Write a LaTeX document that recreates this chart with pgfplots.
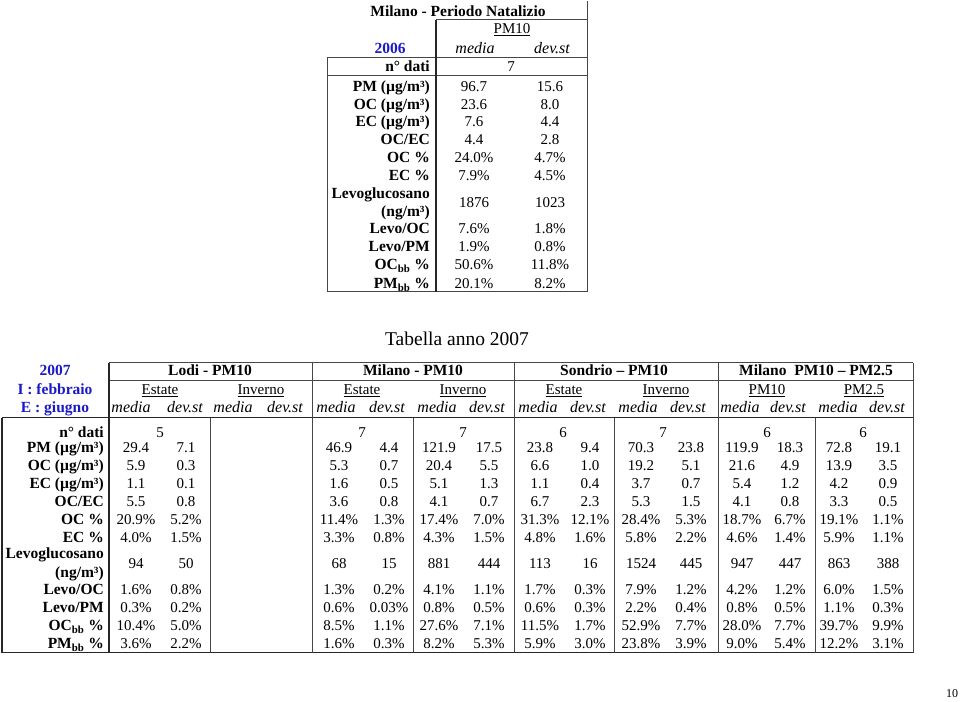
\documentclass[border=0pt]{standalone}
\usepackage{pgfplots}
\pgfplotsset{compat=1.18}
\usepackage{fontspec}
\setmainfont{Liberation Serif}
\definecolor{hdblue}{RGB}{25,25,200}
\definecolor{rl}{RGB}{70,70,70}
\tikzset{
  lab/.style={anchor=base east, inner sep=0pt, font=\bfseries\fontsize{15.5}{18}\selectfont},
  val/.style={anchor=base, inner sep=0pt, font=\fontsize{15}{18}\selectfont},
  hd/.style={anchor=base, inner sep=0pt, font=\itshape\fontsize{16}{18}\selectfont},
  bh/.style={anchor=base, inner sep=0pt, font=\bfseries\fontsize{15.5}{18}\selectfont},
  blu/.style={anchor=base, inner sep=0pt, text=hdblue, font=\bfseries\fontsize{15.5}{18}\selectfont},
  thin/.style={rl, line width=1pt},
  thick/.style={black!85, line width=1.6pt},
}
% top table row: y, label, media, dev.st
\newcommand{\trow}[4]{%
  \node[lab] at (430,#1+5) {#2};
  \node[val] at (474,#1+5) {#3};
  \node[val] at (550,#1+5) {#4};
}
% bottom table row: y, label, 14 values (Lodi inverno empty)
\newcommand{\brow}[3]{%
  \node[lab] at (104,#1+5) {#2};
  \foreach \v [count=\i from 0] in {#3} {%
    \pgfmathsetmacro\xx{{136,186,339,389,439,489,540,590,641,691,742,790,839,888}[\i]}%
    \edef\temp{\noexpand\node[val] at (\xx,#1+5) {\v};}%
    \temp
  }%
}
\begin{document}
\begin{tikzpicture}
\begin{axis}[
  x=1pt, y=1pt,
  xmin=0, xmax=960, ymin=0, ymax=701,
  y dir=reverse,
  hide axis,
  clip=false,
  ]
\path (0,0) rectangle (960,701);

% ---- Milano - Periodo Natalizio ----
\draw[thin] (436,19) -- (587,19);
\draw[thin] (327,57) -- (587,57);
\draw[thin] (327,75) -- (587,75);
\draw[thin] (327,291) -- (587,291);
\draw[thin] (327,57) -- (327,291);
\draw[thin] (587,0) -- (587,291);
\draw[thick] (436,19) -- (436,291);

\node[bh] at (458,16) {Milano - Periodo Natalizio};
\node[val] at (512,33) {\underline{PM10}};
\node[blu] at (390,53) {2006};
\node[hd] at (475,53) {media};
\node[hd] at (552,53) {dev.st};
\node[lab] at (430,71) {n° dati};
\node[val] at (511,71) {7};
\trow{86}{PM (µg/m³)}{96.7}{15.6}
\trow{104}{OC (µg/m³)}{23.6}{8.0}
\trow{121}{EC (µg/m³)}{7.6}{4.4}
\trow{139}{OC/EC}{4.4}{2.8}
\trow{157}{OC \%}{24.0\%}{4.7\%}
\trow{175}{EC \%}{7.9\%}{4.5\%}
\node[lab] at (430,198) {Levoglucosano};
\trow{211}{(ng/m³)}{}{}
\node[val] at (474,207) {1876};
\node[val] at (550,207) {1023};
\trow{228}{Levo/OC}{7.6\%}{1.8\%}
\trow{246}{Levo/PM}{1.9\%}{0.8\%}
\trow{264}{OC\textsubscript{bb} \%}{50.6\%}{11.8\%}
\trow{283}{PM\textsubscript{bb} \%}{20.1\%}{8.2\%}

% ---- Tabella anno 2007 ----
\node[anchor=base, inner sep=0pt, font=\fontsize{19.5}{22}\selectfont] at (457,345) {Tabella anno 2007};

\draw[thin] (109,362) -- (913,362);
\draw[thin] (109,380) -- (913,380);
\draw[thick] (2,417) -- (913,417);
\draw[thick] (2,652) -- (913,652);
\draw[thick] (2,417) -- (2,652);
\draw[thick] (109,362) -- (109,652);
\draw[thin] (312,362) -- (312,652);
\draw[thin] (514,362) -- (514,652);
\draw[thin] (718,362) -- (718,652);
\draw[thin] (913,362) -- (913,652);
\draw[thin] (210,417) -- (210,652);
\draw[thin] (413,417) -- (413,652);
\draw[thin] (614,417) -- (614,652);
\draw[thin] (815,417) -- (815,652);

\node[blu] at (55,375) {2007};
\node[blu] at (55,394) {I : febbraio};
\node[blu] at (55,412) {E : giugno};

\node[bh] at (210,375) {Lodi - PM10};
\node[bh] at (413,375) {Milano - PM10};
\node[bh] at (614,375) {Sondrio – PM10};
\node[bh] at (816,375) {Milano\ \ PM10 – PM2.5};

\node[val] at (160,394) {\underline{Estate}};
\node[val] at (261,394) {\underline{Inverno}};
\node[val] at (362,394) {\underline{Estate}};
\node[val] at (463,394) {\underline{Inverno}};
\node[val] at (564,394) {\underline{Estate}};
\node[val] at (666,394) {\underline{Inverno}};
\node[val] at (767,394) {\underline{PM10}};
\node[val] at (864,394) {\underline{PM2.5}};

\foreach \xx/\t in {131/media,185/dev.st,233/media,285/dev.st,
                    336/media,387/dev.st,437/media,487/dev.st,
                    538/media,588/dev.st,638/media,688/dev.st,
                    740/media,788/dev.st,838/media,887/dev.st} {%
  \edef\temp{\noexpand\node[hd] at (\xx,412) {\t};}%
  \temp
}

\node[lab] at (104,437) {n° dati};
\foreach \xx/\t in {160/5,362/7,463/7,563/6,663/7,767/6,863/6} {%
  \edef\temp{\noexpand\node[val] at (\xx,437) {\t};}%
  \temp
}

\brow{447}{PM (µg/m³)}{29.4,7.1,46.9,4.4,121.9,17.5,23.8,9.4,70.3,23.8,119.9,18.3,72.8,19.1}
\brow{465}{OC (µg/m³)}{5.9,0.3,5.3,0.7,20.4,5.5,6.6,1.0,19.2,5.1,21.6,4.9,13.9,3.5}
\brow{483}{EC (µg/m³)}{1.1,0.1,1.6,0.5,5.1,1.3,1.1,0.4,3.7,0.7,5.4,1.2,4.2,0.9}
\brow{501}{OC/EC}{5.5,0.8,3.6,0.8,4.1,0.7,6.7,2.3,5.3,1.5,4.1,0.8,3.3,0.5}
\brow{519}{OC \%}{20.9\%,5.2\%,11.4\%,1.3\%,17.4\%,7.0\%,31.3\%,12.1\%,28.4\%,5.3\%,18.7\%,6.7\%,19.1\%,1.1\%}
\brow{537}{EC \%}{4.0\%,1.5\%,3.3\%,0.8\%,4.3\%,1.5\%,4.8\%,1.6\%,5.8\%,2.2\%,4.6\%,1.4\%,5.9\%,1.1\%}
\node[lab] at (104,558) {Levoglucosano};
\node[lab] at (104,577) {(ng/m³)};
\brow{563}{}{94,50,68,15,881,444,113,16,1524,445,947,447,863,388}
\brow{589}{Levo/OC}{1.6\%,0.8\%,1.3\%,0.2\%,4.1\%,1.1\%,1.7\%,0.3\%,7.9\%,1.2\%,4.2\%,1.2\%,6.0\%,1.5\%}
\brow{607}{Levo/PM}{0.3\%,0.2\%,0.6\%,0.03\%,0.8\%,0.5\%,0.6\%,0.3\%,2.2\%,0.4\%,0.8\%,0.5\%,1.1\%,0.3\%}
\brow{625}{OC\textsubscript{bb} \%}{10.4\%,5.0\%,8.5\%,1.1\%,27.6\%,7.1\%,11.5\%,1.7\%,52.9\%,7.7\%,28.0\%,7.7\%,39.7\%,9.9\%}
\brow{643}{PM\textsubscript{bb} \%}{3.6\%,2.2\%,1.6\%,0.3\%,8.2\%,5.3\%,5.9\%,3.0\%,23.8\%,3.9\%,9.0\%,5.4\%,12.2\%,3.1\%}

\node[anchor=base, inner sep=0pt, font=\fontsize{12}{14}\selectfont] at (952,697) {10};
\end{axis}
\end{tikzpicture}
\end{document}
